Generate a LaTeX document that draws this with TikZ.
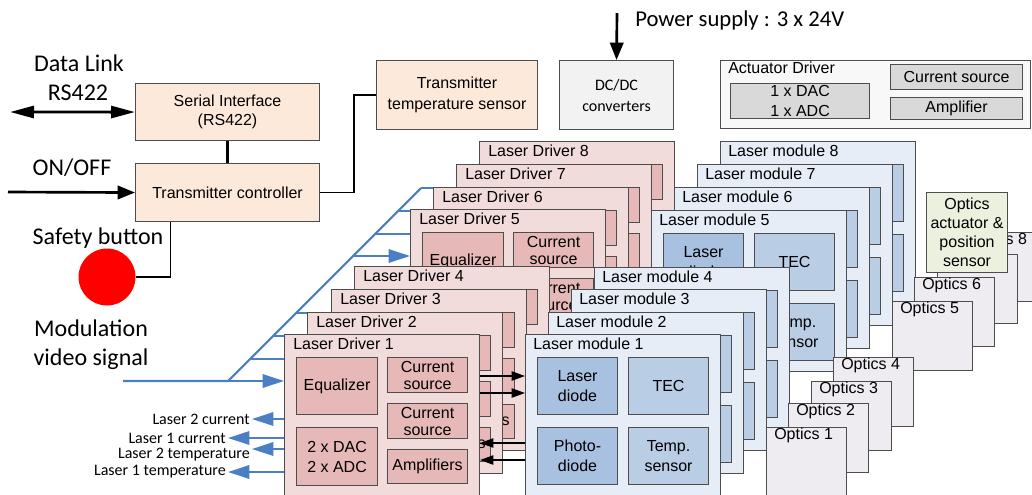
\documentclass[tikz,border=0pt]{standalone}
\usepackage{fontspec}
\setmainfont{Liberation Sans}
\newfontfamily\calfont{Carlito}
\usetikzlibrary{arrows.meta}
\definecolor{peach}{HTML}{FDE9D9}
\definecolor{dcgray}{HTML}{F2F2F2}
\definecolor{actfill}{HTML}{F8F8F8}
\definecolor{actin}{HTML}{D9D9D9}
\definecolor{drvfill}{HTML}{F2DCDB}
\definecolor{drvin}{HTML}{E6B9B8}
\definecolor{modfill}{HTML}{E6EDF7}
\definecolor{modin}{HTML}{B9CDE5}
\definecolor{modindark}{HTML}{A9C1E0}
\definecolor{optfill}{HTML}{EEEBF1}
\definecolor{grn}{HTML}{EBF1DE}
\definecolor{bord}{HTML}{4D4D4D}
\definecolor{sigblue}{HTML}{4A7EC5}
\pgfdeclarelayer{bg}
\pgfsetlayers{bg,main}
\tikzset{
 box/.style={draw=bord, line width=0.8pt, inner sep=0pt, anchor=north west, align=center, font=\fontsize{12}{15}\selectfont},
 wh/.style 2 args={minimum width=#1*0.75pt, minimum height=#2*0.75pt},
 lbl/.style={anchor=west, inner sep=0pt, font=\fontsize{12}{14}\selectfont},
 caltext/.style={inner sep=0pt, font=\calfont\fontsize{18}{22}\selectfont, align=center},
 outlbl/.style={anchor=east, inner sep=1.5pt, font=\calfont\fontsize{12}{14}\selectfont},
 blk/.style={draw=black, line width=2pt, -{Triangle[length=13pt,width=10pt]}},
 wire/.style={draw=black, line width=1pt},
 sig/.style={draw=sigblue, line width=1.6pt},
 sigarrow/.style={sig, -{Triangle[length=16pt,width=10pt]}},
 dmarrow/.style={draw=black, line width=1pt, -{Triangle[length=10pt,width=7pt]}},
}
\newcommand\drvunit[3]{%
 \begin{scope}[shift={(#2,#3)}]
 \node[box, fill=drvfill, wh={195}{161}] (d#1) at (0,0) {};
 \node[lbl] (d#1t) at (9,10) {Laser Driver #1};
 \node[box, fill=drvin, wh={81}{57}] (d#1eq) at (12,23) {Equalizer};
 \node[box, fill=drvin, wh={80}{35}, font=\fontsize{12}{12.75}\selectfont] (d#1csa) at (103,23) {Current\\source};
 \node[box, fill=drvin, wh={80}{35}, font=\fontsize{12}{12.75}\selectfont] (d#1csb) at (103,69) {Current\\source};
 \node[box, fill=drvin, wh={81}{58}] (d#1dac) at (12,93) {2 x DAC\\2 x ADC};
 \node[box, fill=drvin, wh={80}{34}] (d#1amp) at (103,115) {Amplifiers};
 \end{scope}}
\newcommand\modunit[3]{%
 \begin{scope}[shift={(#2,#3)}]
 \node[box, fill=modfill, wh={195}{161}] (m#1) at (0,0) {};
 \node[lbl] (m#1t) at (8,10) {Laser module #1};
 \node[box, fill=modindark, wh={80}{57}] (m#1ld) at (12,23) {Laser\\diode};
 \node[box, fill=modin, wh={80}{57}] (m#1tec) at (103,23) {TEC};
 \node[box, fill=modindark, wh={80}{57}] (m#1pd) at (12,93) {Photo-\\diode};
 \node[box, fill=modin, wh={80}{57}] (m#1ts) at (103,93) {Temp.\\sensor};
 \end{scope}}
\newcommand\optunit[3]{%
 \node[box, fill=optfill, wh={80}{69}] (o#1) at (#2,#3) {};
 \node[lbl] (o#1t) at ({#2+8},{#3+8}) {Optics #1};}
\begin{document}
\begin{tikzpicture}[x=0.75pt,y=-0.75pt]
\useasboundingbox (0,0) rectangle (1032,494);
% top-left controller part
\node[box, fill=peach, wh={184}{57}, font=\fontsize{12}{14}\selectfont] (serial) at (135,83) {Serial Interface\\(RS422)};
\node[box, fill=peach, wh={184}{58}] (txc) at (135,163) {Transmitter controller};
\node[box, fill=peach, wh={161}{69}, font=\fontsize{12}{15.75}\selectfont] (tsens) at (376,60) {Transmitter\\temperature sensor};
\node[box, fill=dcgray, wh={114}{69}, font=\calfont\fontsize{12}{15.75}\selectfont] (dcdc) at (559,60) {DC/DC\\converters};
\node[box, fill=actfill, wh={310}{68}] (act) at (720,60) {};
\node[lbl] (actt) at (728,68) {Actuator Driver};
\node[box, fill=actin, wh={139}{35}, font=\fontsize{12}{15}\selectfont] (actdac) at (730,83) {1 x DAC\\1 x ADC};
\node[box, fill=actin, wh={132}{25}] (actcs) at (890,64) {Current source};
\node[box, fill=actin, wh={132}{22}] (actamp) at (890,97) {Amplifier};

\node[caltext] (dltxt) at (79,63) {Data Link};
\node[caltext] (rstxt) at (78,93) {RS422};
\node[caltext] (onofftxt) at (72,168) {ON/OFF};
\node[caltext] (safetxt) at (98,238) {Safety button};
\node[caltext, font=\calfont\fontsize{18}{21.75}\selectfont] (modtxt) at (91,345) {Modulation\\video signal};
\node[caltext, anchor=west, font=\calfont\fontsize{17}{20}\selectfont] (pwtxt) at (635,20) {Power supply : 3 x 24V};
\node[circle, fill=red, minimum size=57*0.75pt, inner sep=0pt] (sb) at (107,277) {};

\coordinate (dl) at (10,112);
\coordinate (onoff) at (8,192);
\coordinate (pw) at (617,13);
\draw[line width=2.2pt, {Triangle[length=18pt,width=9pt]}-{Triangle[length=18pt,width=9pt]}] (dl) -- (serial.west);
\draw[blk] (onoff) -- (txc.west);
\draw[blk] (pw) -- (dcdc.north);
\draw[line width=2.2pt] (serial.south) -- (txc.north);
\draw[wire] (txc.east) -- ++(34,0) |- (tsens.west);
\draw[wire] (sb.east) -| ([xshift=-42.75pt]txc.south);

% group 2 (back)
\drvunit{8}{479}{141}
\drvunit{7}{456}{164}
\drvunit{6}{433}{187}
\drvunit{5}{410}{209}
\modunit{8}{720}{141}
\modunit{7}{697}{164}
\modunit{6}{674}{187}
\modunit{5}{651}{210}
\optunit{8}{960}{232}
\optunit{7}{937}{254}
\optunit{6}{914}{277}
\optunit{5}{892}{301}
\node[box, fill=grn, wh={81}{80}, font=\fontsize{12}{14.25}\selectfont] (optact) at (926,192) {Optics\\actuator \&\\position\\sensor};
% group 1 (front)
\drvunit{4}{354}{266}
\drvunit{3}{331}{289}
\drvunit{2}{307}{312}
\drvunit{1}{284}{334}
\modunit{4}{594}{267}
\modunit{3}{571}{289}
\modunit{2}{548}{312}
\modunit{1}{525}{334}
\optunit{4}{833}{357}
\optunit{3}{811}{381}
\optunit{2}{788}{403}
\optunit{1}{766}{427}

% driver <-> module signals
\foreach \dy in {42,59}
  \draw[dmarrow] ([yshift=-\dy*0.75pt]d1.north east) -- ([yshift=-\dy*0.75pt]m1.north west);
\foreach \dy in {109,126}
  \draw[dmarrow] ([yshift=-\dy*0.75pt]m1.north west) -- ([yshift=-\dy*0.75pt]d1.north east);

% monitor outputs
\node[outlbl] (lac) at (252,419) {Laser 2 current};
\node[outlbl] (lbc) at (228,438) {Laser 1 current};
\node[outlbl] (lat) at (252,455) {Laser 2 temperature};
\node[outlbl] (lbt) at (228,472) {Laser 1 temperature};
\draw[sigarrow] ([yshift=-85*0.75pt]d1.north west) -- (lac.east);
\draw[sigarrow] ([yshift=-104*0.75pt]d1.north west) -- (lbc.east);
\draw[sigarrow] ([yshift=-115*0.75pt]d1.north west) -- ([yshift=4.5pt]lat.east);
\draw[sigarrow] ([yshift=-138*0.75pt]d1.north west) -- (lbt.east);

% modulation distribution (behind the drivers)
\begin{pgfonlayer}{bg}
\coordinate (vin) at (123,381);
\coordinate (vsplit) at (228,381);
\coordinate (vtop) at (421,188);
\draw[sig] (vin) -- (vsplit) -- (vtop);
\foreach \k/\yb in {1/381,2/359,3/336,4/313,5/256,6/234,7/211,8/188}
  \draw[sigarrow] ({609-\yb},\yb) -- ([yshift=-47*0.75pt]d\k.north west);
\end{pgfonlayer}
\end{tikzpicture}
\end{document}
